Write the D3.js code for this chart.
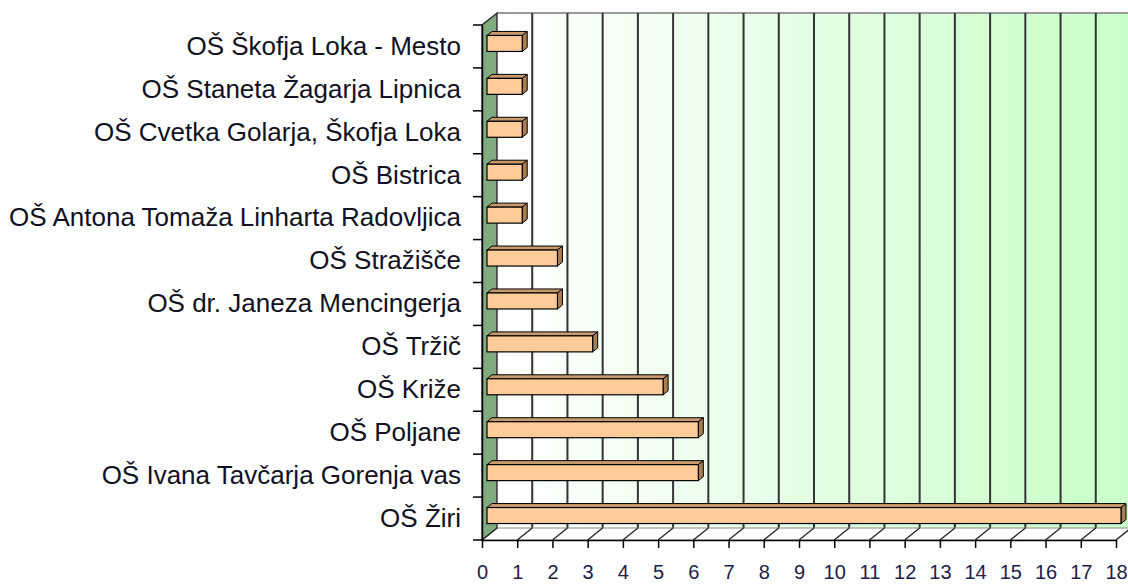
<!DOCTYPE html>
<html>
<head>
<meta charset="utf-8">
<script src="https://cdn.jsdelivr.net/npm/d3@7"></script>
<style>
  body { margin: 0; background: #fff; }
  text { font-family: "Liberation Sans", Arial, sans-serif; }
</style>
</head>
<body>
<script>
var schools = ["OŠ Škofja Loka - Mesto", "OŠ Staneta Žagarja Lipnica", "OŠ Cvetka Golarja, Škofja Loka",
  "OŠ Bistrica", "OŠ Antona Tomaža Linharta Radovljica", "OŠ Stražišče", "OŠ dr. Janeza Mencingerja",
  "OŠ Tržič", "OŠ Križe", "OŠ Poljane", "OŠ Ivana Tavčarja Gorenja vas", "OŠ Žiri"];
var counts = [1, 1, 1, 1, 1, 2, 2, 3, 5, 6, 6, 18];
var ticks = d3.range(0, 19);

var W = 1128, H = 584;
var svg = d3.select("body").append("svg").attr("width", W).attr("height", H);

// front plane
var x = d3.scaleLinear().domain([0, 18]).range([482, 1116]);
var y = d3.scaleBand().domain(schools).range([25, 540]);
var dx = 15, dy = 12;      // depth of the 3d box
var bx = 5, by = 3, bd = 5; // bar depth start + bar thickness
var barH = 16;

var defs = svg.append("defs");
var grad = defs.append("linearGradient").attr("id", "wall")
  .attr("x1", "0").attr("x2", "1").attr("y1", "0").attr("y2", "0");
grad.append("stop").attr("offset", "0").attr("stop-color", "#ffffff");
grad.append("stop").attr("offset", "1").attr("stop-color", "#c8ffc8");

var x0 = x(0), yT = y.range()[0], yB = y.range()[1];

// back wall
svg.append("rect")
  .attr("x", x0 + dx).attr("y", yT - dy)
  .attr("width", x(18) - x0).attr("height", yB - yT)
  .attr("fill", "url(#wall)");
svg.append("line")
  .attr("x1", x0 + dx).attr("x2", x(18) + dx)
  .attr("y1", yT - dy).attr("y2", yT - dy)
  .attr("stroke", "#999").attr("stroke-width", 2);

// gridlines on back wall
svg.append("g").selectAll("line").data(ticks.slice(1)).enter().append("line")
  .attr("x1", function(d) { return x(d) + dx; })
  .attr("x2", function(d) { return x(d) + dx; })
  .attr("y1", yT - dy).attr("y2", yB - dy)
  .attr("stroke", "#333").attr("stroke-width", 2);

// floor
svg.append("path")
  .attr("d", "M" + x0 + "," + yB + "L" + (x0 + dx) + "," + (yB - dy) + "L" + (x(18) + dx) + "," + (yB - dy) + "L" + x(18) + "," + yB + "Z")
  .attr("fill", "#fff").attr("stroke", "#888").attr("stroke-width", 1);
svg.append("g").selectAll("line").data(ticks).enter().append("line")
  .attr("x1", function(d) { return x(d); })
  .attr("x2", function(d) { return x(d) + dx; })
  .attr("y1", yB).attr("y2", yB - dy)
  .attr("stroke", "#222").attr("stroke-width", 1.3);

// left wall
svg.append("path")
  .attr("d", "M" + x0 + "," + yT + "L" + (x0 + dx) + "," + (yT - dy) + "L" + (x0 + dx) + "," + (yB - dy) + "L" + x0 + "," + yB + "Z")
  .attr("fill", "#80aa80").attr("stroke", "#222").attr("stroke-width", 1.3);

// bars
var bars = svg.append("g").selectAll("g").data(schools).enter().append("g");
function face(pts) { return "M" + pts.map(function(p) { return p.join(","); }).join("L") + "Z"; }
bars.each(function(d, i) {
  var g = d3.select(this);
  var l = x(0) + bx, r = x(counts[i]) + bx;
  var t = y(d) + y.bandwidth() / 2 - by - barH / 2, b = t + barH;
  g.append("path").attr("d", face([[l, t], [l + bd, t - bd + 1], [r + bd, t - bd + 1], [r, t]]))
    .attr("fill", "#c99a6c").attr("stroke", "#000").attr("stroke-width", 1);
  g.append("path").attr("d", face([[r, t], [r + bd, t - bd + 1], [r + bd, b - bd + 1], [r, b]]))
    .attr("fill", "#a97c52").attr("stroke", "#000").attr("stroke-width", 1);
  g.append("rect").attr("x", l).attr("y", t).attr("width", r - l).attr("height", barH)
    .attr("fill", "#ffcc99").attr("stroke", "#000").attr("stroke-width", 1.2);
});

// axes
var yAxis = d3.axisLeft(y).tickSize(0).tickPadding(21);
var yg = svg.append("g").attr("transform", "translate(" + x0 + ",0)").call(yAxis);
yg.select(".domain").attr("stroke", "#000").attr("stroke-width", 1.5);
yg.selectAll("text").attr("font-size", 26).attr("fill", "#111122");
svg.append("g").selectAll("line").data(d3.range(schools.length + 1)).enter().append("line")
  .attr("x1", x0 - 9).attr("x2", x0)
  .attr("y1", function(i) { return yT + i * y.step(); })
  .attr("y2", function(i) { return yT + i * y.step(); })
  .attr("stroke", "#000").attr("stroke-width", 1.5);

var xAxis = d3.axisBottom(x).tickValues(ticks).tickSizeInner(8).tickSizeOuter(0).tickPadding(17);
var xg = svg.append("g").attr("transform", "translate(0," + yB + ")").call(xAxis);
xg.select(".domain").attr("stroke", "#000").attr("stroke-width", 1.5);
xg.selectAll(".tick line").attr("stroke", "#000").attr("stroke-width", 1.5);
xg.selectAll("text").attr("font-size", 20).attr("fill", "#22204a");
</script>
</body>
</html>
